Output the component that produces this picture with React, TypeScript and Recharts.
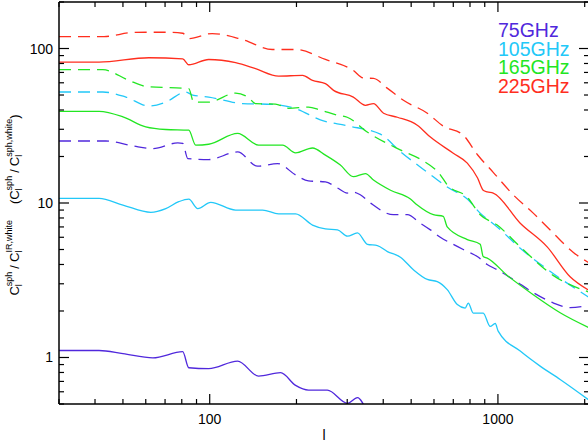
import { LineChart, Line, XAxis, YAxis } from 'recharts'

const C75 = '#5028dc'
const C105 = '#22c8f8'
const C165 = '#22e622'
const C225 = '#ff2e1e'
const FONT = '"Liberation Sans", Arial, sans-serif'

const X_TICKS = [30, 40, 50, 60, 70, 80, 90, 100, 200, 300, 400, 500, 600, 700, 800, 900, 1000, 2000]
const X_LABELS = [100, 1000]
const Y_TICKS = [0.5, 0.6, 0.7, 0.8, 0.9, 1, 2, 3, 4, 5, 6, 7, 8, 9, 10, 20, 30, 40, 50, 60, 70, 80, 90, 100, 200]
const Y_LABELS = [1, 10, 100]
const LEGEND = ['75GHz', '105GHz', '165GHz', '225GHz']

// 225GHz
const l225Dash = [30, 43, 54, 62, 70, 80.6, 84.6, 102, 130, 165, 199, 252, 315, 341, 370, 414, 470, 569, 647, 758, 848, 963, 1130, 1326, 1554, 1823, 2070]
const v225Dash = [119.5, 119.5, 126.9, 127.4, 127.4, 125.5, 116, 125, 114.3, 98.5, 98.5, 85, 72.1, 64.5, 64, 55.2, 46.2, 38.1, 31.4, 27.5, 20.6, 15.8, 11.3, 8.6, 6.4, 4.8, 4.1]
const l225Solid = [30, 41.3, 61.5, 80.6, 84.6, 99.2, 123, 144.3, 173.4, 210, 227.3, 252, 269, 315, 347, 370, 401, 448, 525, 583, 700, 783, 850, 889, 918, 963, 1195, 1482, 1780, 2070]
const v225Solid = [81.6, 81.6, 87.1, 85.8, 78.5, 84.9, 80.9, 74, 66.3, 67, 62.2, 59.2, 53.6, 48.5, 42.9, 44, 38.1, 35.9, 31.9, 26.7, 21, 18.1, 14.5, 12.1, 11.8, 11.6, 7.4, 5.2, 3.33, 2.72]

// 165GHz
const l165Dash = [30, 42.6, 52.4, 60, 84.6, 88, 99.2, 123, 136.5, 144.3, 169, 188, 220, 242, 278, 300, 353, 460, 538, 631, 667, 783, 868, 994, 1195, 1554, 2070]
const v165Dash = [72.9, 72.9, 62.2, 56.9, 55, 45, 45, 51.5, 48.1, 44, 43.7, 41, 41.8, 40, 37, 35.9, 28.7, 22, 19.2, 15.2, 13.1, 10.9, 8.4, 7.2, 5.2, 3.4, 2.65]
const l165Solid = [30, 41.3, 50, 60, 70.4, 84.6, 89.4, 99.2, 125, 147.8, 179, 198.6, 227.3, 252, 284, 315, 347, 370, 424, 497, 525, 597, 646, 667, 783, 868, 889, 918, 1077, 1326, 1644, 2070]
const v165Solid = [39.2, 39.2, 36.1, 31.1, 29.9, 29.6, 23.7, 24, 28.2, 23.7, 23.7, 21.1, 22.7, 20.4, 17.6, 14.8, 15.5, 14.1, 12.1, 10.6, 9.7, 8.4, 8.2, 7, 5.8, 5.4, 4.5, 4.4, 3.4, 2.55, 1.95, 1.56]

// 105GHz
const l105Dash = [30, 42.6, 51.2, 61.5, 70.4, 82.6, 87.3, 99.2, 130, 165, 199, 242, 300, 391, 459, 569, 667, 783, 868, 994, 1195, 1554, 2070]
const v105Dash = [52.3, 52.3, 48.5, 42.4, 45, 52.3, 50, 48.5, 44, 43.5, 40.8, 34.5, 31.6, 27.9, 21.5, 15.8, 12.7, 10.6, 8.6, 7, 5.1, 3.5, 2.45]
const l105Solid = [30, 41.3, 50, 62.5, 70.4, 78.1, 84.6, 90.9, 100.8, 123, 152.6, 173.4, 198.6, 227.3, 252, 277.6, 300.6, 325.5, 352.6, 381.8, 413.6, 458.8, 509, 569, 616, 667, 723, 770, 789, 821, 889, 940, 979, 1002, 1195, 1401, 1644, 2070]
const v105Solid = [10.7, 10.7, 9.7, 8.7, 9.2, 10.2, 10.6, 9.2, 10.1, 9, 9, 8.5, 8.5, 7.2, 6.8, 6.7, 6.1, 6.4, 5.4, 5.3, 4.85, 4.46, 3.7, 3.2, 3.1, 2.75, 2.2, 2.09, 2.25, 1.94, 1.94, 1.59, 1.66, 1.48, 1.1, 0.879, 0.721, 0.53]

// 75GHz
const l75Dash = [30, 43.6, 54.1, 63.5, 77.5, 80.6, 83.9, 99.2, 125, 146.6, 172, 198.6, 220, 252, 277.6, 300, 313, 333, 361, 434, 485, 538, 583, 631, 700, 758, 848, 918, 994, 1130, 1326, 1554, 1780, 2070]
const v75Dash = [25.2, 25.2, 23.4, 22.5, 24.5, 24.3, 19.4, 19.1, 21.4, 17.3, 18, 15.2, 13.9, 13.7, 12.5, 11.6, 11.8, 11.3, 10, 8.4, 8.4, 7.4, 6.7, 6, 5.4, 5, 4.5, 4, 3.7, 3.2, 2.63, 2.26, 2.1, 2.18]
const l75Solid = [30, 41.3, 50, 63.5, 80.6, 84.6, 99.2, 125, 147.8, 176.2, 198.6, 220.2, 256, 300.6, 325.5, 350]
const v75Solid = [1.11, 1.11, 1.06, 0.995, 1.09, 0.858, 0.846, 0.947, 0.758, 0.797, 0.66, 0.615, 0.615, 0.505, 0.55, 0.45]

const zip = (ls: number[], vs: number[]) => ls.map((l, i) => ({ l, v: vs[i] }))

const SERIES = [
  { id: '75s', data: zip(l75Solid, v75Solid), color: C75, dash: false },
  { id: '75d', data: zip(l75Dash, v75Dash), color: C75, dash: true },
  { id: '105s', data: zip(l105Solid, v105Solid), color: C105, dash: false },
  { id: '105d', data: zip(l105Dash, v105Dash), color: C105, dash: true },
  { id: '165s', data: zip(l165Solid, v165Solid), color: C165, dash: false },
  { id: '165d', data: zip(l165Dash, v165Dash), color: C165, dash: true },
  { id: '225s', data: zip(l225Solid, v225Solid), color: C225, dash: false },
  { id: '225d', data: zip(l225Dash, v225Dash), color: C225, dash: true },
]
const LEGEND_COLORS = [C75, C105, C165, C225]

function XTick(props: any) {
  const { x, y, payload, side } = props
  const major = X_LABELS.includes(payload.value)
  const len = major ? 10 : 5
  const dir = side === 'bottom' ? -1 : 1
  return (
    <g>
      <line x1={x} x2={x} y1={y} y2={y + dir * len} stroke="#000" strokeWidth={1.2} />
      {side === 'bottom' && major && (
        <text x={x} y={y + 20} textAnchor="middle" fontSize={14} fontFamily={FONT} fill="#000">{payload.value}</text>
      )}
    </g>
  )
}

function YTick(props: any) {
  const { x, y, payload, side } = props
  const major = Y_LABELS.includes(payload.value)
  const len = major ? 10 : 5
  const dir = side === 'left' ? 1 : -1
  return (
    <g>
      <line x1={x} x2={x + dir * len} y1={y} y2={y} stroke="#000" strokeWidth={1.2} />
      {side === 'left' && major && (
        <text x={x - 6} y={y + 5} textAnchor="end" fontSize={14} fontFamily={FONT} fill="#000">{payload.value}</text>
      )}
    </g>
  )
}

function YTitle() {
  const big = 13
  const small = 9
  return (
    <text x={19} y={205} transform="rotate(-90 19 205)" textAnchor="middle" fontSize={big} fontFamily={FONT} fill="#000">
      <tspan>C</tspan>
      <tspan fontSize={small} dy={3}>l</tspan>
      <tspan fontSize={small} dx={-2} dy={-10}>sph</tspan>
      <tspan dx={3} dy={7}>/</tspan>
      <tspan dx={3}>C</tspan>
      <tspan fontSize={small} dy={3}>l</tspan>
      <tspan fontSize={small} dx={-2} dy={-10}>IR,white</tspan>
      <tspan dx={16} dy={7}>(</tspan>
      <tspan>C</tspan>
      <tspan fontSize={small} dy={3}>l</tspan>
      <tspan fontSize={small} dx={-2} dy={-10}>sph</tspan>
      <tspan dx={3} dy={7}>/</tspan>
      <tspan dx={3}>C</tspan>
      <tspan fontSize={small} dy={3}>l</tspan>
      <tspan fontSize={small} dx={-2} dy={-10}>sph,white</tspan>
      <tspan dy={7}>)</tspan>
    </text>
  )
}

const axisLine = { stroke: '#000', strokeWidth: 1.5 }

export default function App() {
  return (
    <div style={{ position: 'absolute', left: 0, top: 0, width: 588, height: 444, overflow: 'hidden', background: '#fff' }}>
      <LineChart width={600} height={444} margin={{ top: 0, right: 0, bottom: 0, left: 0 }}>
        <XAxis xAxisId="b" type="number" dataKey="l" scale="log" domain={[30, 2070]} allowDataOverflow
          ticks={X_TICKS} height={40} tickSize={0} tickMargin={0} interval={0}
          axisLine={axisLine} tickLine={false}
          tick={(p: any) => <XTick {...p} side="bottom" />} />
        <XAxis xAxisId="t" orientation="top" type="number" dataKey="l" scale="log" domain={[30, 2070]} allowDataOverflow
          ticks={X_TICKS} height={2} tickSize={0} tickMargin={0} interval={0}
          axisLine={axisLine} tickLine={false}
          tick={(p: any) => <XTick {...p} side="top" />} />
        <YAxis yAxisId="l" type="number" scale="log" domain={[0.5, 200]} allowDataOverflow
          ticks={Y_TICKS} width={59} tickSize={0} tickMargin={0} interval={0}
          axisLine={axisLine} tickLine={false}
          tick={(p: any) => <YTick {...p} side="left" />} />
        <YAxis yAxisId="r" orientation="right" type="number" scale="log" domain={[0.5, 200]} allowDataOverflow
          ticks={Y_TICKS} width={11} tickSize={0} tickMargin={0} interval={0}
          axisLine={axisLine} tickLine={false}
          tick={(p: any) => <YTick {...p} side="right" />} />
        {SERIES.map(s => (
          <Line key={s.id} xAxisId="b" yAxisId="l" data={s.data} dataKey="v" type="monotone"
            stroke={s.color} strokeWidth={1.3} strokeDasharray={s.dash ? '12 7' : undefined}
            dot={false} activeDot={false} isAnimationActive={false} />
        ))}
      </LineChart>
      <svg width={588} height={444} style={{ position: 'absolute', left: 0, top: 0, pointerEvents: 'none' }}>
        <YTitle />
        <text x={324} y={440} textAnchor="middle" fontSize={14} fontFamily={FONT} fill="#000">l</text>
        {LEGEND.map((t, i) => (
          <text key={t} x={498} y={37 + i * 18.6} fontSize={19.5} fontFamily={FONT} fill={LEGEND_COLORS[i]}>{t}</text>
        ))}
      </svg>
    </div>
  )
}
